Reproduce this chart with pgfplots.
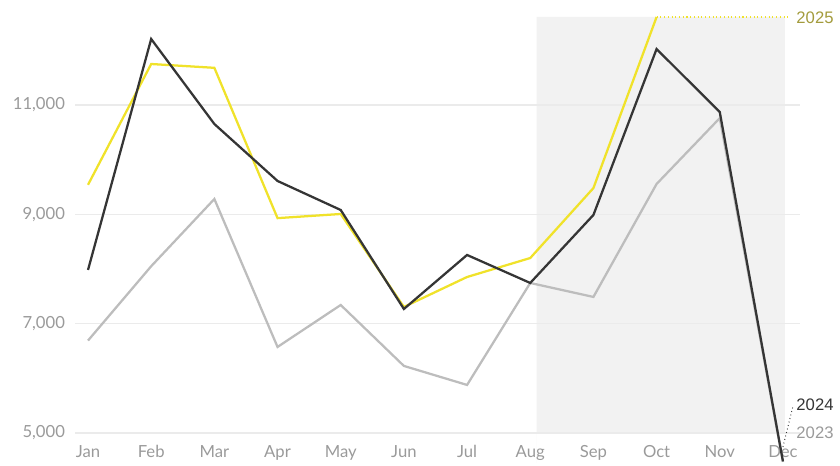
\documentclass[border=0pt]{standalone}
\usepackage{pgfplots}
\pgfplotsset{compat=1.18}
\usepackage{fontspec}
\setmainfont{Lato}
\newfontfamily\labfont{Liberation Sans}
\definecolor{yel}{HTML}{F0E22A}
\definecolor{drk}{HTML}{353535}
\definecolor{gry}{HTML}{BDBDBD}
\definecolor{shade}{HTML}{F2F2F2}
\definecolor{gridc}{HTML}{EBEBEB}
\definecolor{tickc}{HTML}{9A9A9A}
\definecolor{olive}{HTML}{A39B3C}
\begin{document}
\begin{tikzpicture}
\begin{axis}[
  set layers,
  at={(56.25pt,0pt)}, anchor=south west,
  scale only axis, width=543.75pt, height=334.5pt,
  xmin=-0.206, xmax=11.27,
  ymin=4450, ymax=12610,
  axis line style={draw=none},
  clip mode=individual,
  scaled y ticks=false,
  xtick={0,...,11},
  xticklabels={Jan,Feb,Mar,Apr,May,Jun,Jul,Aug,Sep,Oct,Nov,Dec},
  ytick={5000,7000,9000,11000},
  yticklabels={{5,000},{7,000},{9,000},{11,000}},
  ymajorgrids, major grid style={gridc, line width=1pt},
  tick style={draw=none},
  every tick label/.append style={font=\fontsize{12.5}{14}\selectfont, text=tickc},
  every x tick label/.append style={anchor=base, yshift=3.75pt},
  every y tick label/.append style={xshift=-4pt},
]
\addplot[draw=none, fill=shade, on layer=axis background] coordinates {(7.1,5000) (11.03,5000) (11.03,12610) (7.1,12610)} \closedcycle;
% 2023
\addplot[gry, line width=1.7pt] coordinates {
(0,6690) (1,8050) (2,9280) (3,6573) (4,7341) (5,6226) (6,5878) (7,7744) (8,7488) (9,9555) (10,10760) (11,4470)};
% 2025
\addplot[yel, line width=1.7pt] coordinates {
(0,9540) (1,11750) (2,11680) (3,8930) (4,9006) (5,7305) (6,7853) (7,8200) (8,9480) (9,12610)};
% 2024
\addplot[drk, line width=1.7pt] coordinates {
(0,7982) (1,12207) (2,10652) (3,9610) (4,9079) (5,7268) (6,8256) (7,7744) (8,8988) (9,12024) (10,10871) (11,4480)};
\draw[yel, dotted, line width=0.8pt] (axis cs:9,12610) -- (axis cs:11.12,12610);
\draw[drk, dotted, line width=0.7pt] (axis cs:11.0,4744) -- (axis cs:11.16,5494);
\node[anchor=west, inner sep=0pt, text=olive, font=\labfont\fontsize{12.5}{14}\selectfont] at (axis cs:11.21,12590) {2025};
\node[anchor=west, inner sep=0pt, text=drk, font=\labfont\fontsize{12.5}{14}\selectfont] at (axis cs:11.21,5512) {2024};
\node[anchor=west, inner sep=0pt, text=tickc, font=\labfont\fontsize{12.5}{14}\selectfont] at (axis cs:11.21,5000) {2023};
\end{axis}
\path (0pt,0pt) rectangle (630pt,347.25pt);
\end{tikzpicture}
\end{document}
